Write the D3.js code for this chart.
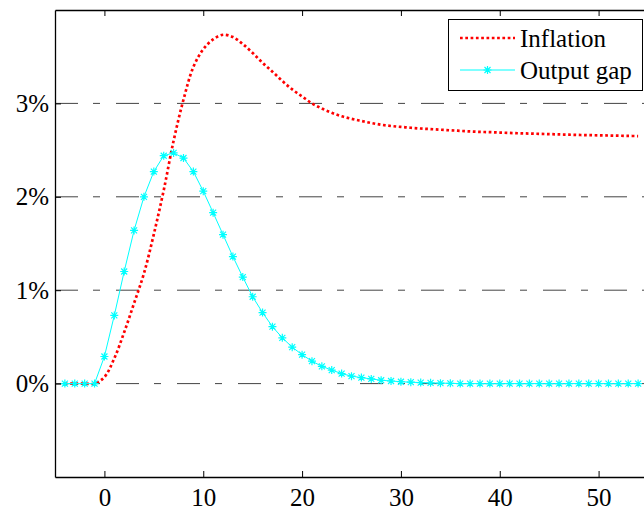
<!DOCTYPE html>
<html>
<head>
<meta charset="utf-8">
<script src="https://cdn.jsdelivr.net/npm/d3@7"></script>
<style>
  body { margin: 0; background: #fff; }
  svg { display: block; }
  text { font-family: "Liberation Serif", "Times New Roman", serif; }
</style>
</head>
<body>
<svg id="chart" width="644" height="512"></svg>
<script>
// horizon (quarters)
const periods = d3.range(-4, 55);

const inflation = [
    0, 0, 0, 0,
    0.07, 0.27, 0.55, 0.86, 1.18, 1.6, 2.07, 2.6, 3.04, 3.39,
    3.58, 3.685, 3.735, 3.71, 3.635, 3.54, 3.435, 3.34, 3.24, 3.15,
    3.075, 3.0, 2.945, 2.9, 2.862, 2.835, 2.812, 2.79, 2.772, 2.758,
    2.748, 2.739, 2.731, 2.725, 2.718, 2.712, 2.706, 2.7, 2.695, 2.692,
    2.688, 2.684, 2.68, 2.677, 2.674, 2.671, 2.668, 2.665, 2.662, 2.66,
    2.658, 2.656, 2.654, 2.652, 2.65
];

const outputGap = [
    0, 0, 0, 0,
    0.29, 0.73, 1.2, 1.64, 2.0, 2.27, 2.44, 2.47, 2.415, 2.27,
    2.06, 1.83, 1.595, 1.36, 1.14, 0.93, 0.76, 0.61, 0.49, 0.39,
    0.31, 0.24, 0.185, 0.145, 0.107, 0.08, 0.064, 0.05, 0.036, 0.028,
    0.02, 0.015, 0.011, 0.008, 0.005, 0.003, 0, 0, 0, 0,
    0, 0, 0, 0, 0, 0, 0, 0, 0, 0,
    0, 0, 0, 0, 0
];

const xTicks = [0, 10, 20, 30, 40, 50];
const yTicks = [0, 1, 2, 3];
const seriesNames = ["Inflation", "Output gap"];

const serif = "'Liberation Serif', 'Times New Roman', serif";
const svg = d3.select("#chart");
const margens = { left: 55, top: 10, bottom: 35 };
const plotW = 593;
const plotH = 512 - margens.top - margens.bottom;

const mapX = d3.scaleLinear().domain([-5, 55]).range([0, plotW]);
const mapY = d3.scaleLinear().domain([-1, 4]).range([plotH, 0]);

const g = svg.append("g")
    .attr("transform", `translate(${margens.left}, ${margens.top})`);

// dash-dot grid lines
g.append("g")
    .selectAll("line")
    .data(yTicks)
    .enter()
    .append("line")
    .attr("x1", 0)
    .attr("x2", plotW)
    .attr("y1", (d) => mapY(d))
    .attr("y2", (d) => mapY(d))
    .attr("stroke", "#444")
    .attr("stroke-width", 1)
    .attr("stroke-dasharray", "23,15,7,16");

const pts = periods.map((t, i) => ({ t, infl: inflation[i], gap: outputGap[i] }));

const inflLine = d3.line()
    .curve(d3.curveCatmullRom.alpha(0.5))
    .x((d) => mapX(d.t))
    .y((d) => mapY(d.infl));

const gapLine = d3.line()
    .x((d) => mapX(d.t))
    .y((d) => mapY(d.gap));

g.append("path")
    .datum(pts)
    .attr("fill", "none")
    .attr("stroke", "#ff0000")
    .attr("stroke-width", 2.7)
    .attr("stroke-dasharray", "2.7,2.6")
    .attr("d", inflLine);

g.append("path")
    .datum(pts)
    .attr("fill", "none")
    .attr("stroke", "#00ffff")
    .attr("stroke-width", 1)
    .attr("d", gapLine);

const star = "M-4,0L4,0M0,-4L0,4M-3,-3L3,3M-3,3L3,-3";
g.append("g")
    .selectAll("path")
    .data(pts)
    .enter()
    .append("path")
    .attr("transform", (d) => `translate(${mapX(d.t)}, ${mapY(d.gap)})`)
    .attr("d", star)
    .attr("fill", "none")
    .attr("stroke", "#00ffff")
    .attr("stroke-width", 1.2);

// axes, ticks pointing inward
const xAxis = d3.axisBottom(mapX).tickValues(xTicks).tickSize(-6).tickSizeOuter(0).tickPadding(11);
const xg = g.append("g")
    .attr("transform", `translate(0, ${plotH})`)
    .call(xAxis);

const topAxis = d3.axisTop(mapX).tickValues(xTicks).tickSize(-6).tickSizeOuter(0).tickFormat("");
const tg = g.append("g").call(topAxis);

const yAxis = d3.axisLeft(mapY).tickValues(yTicks).tickSize(-6).tickSizeOuter(0).tickPadding(6)
    .tickFormat((d) => d + "%");
const yg = g.append("g").call(yAxis);

[xg, tg, yg].forEach((a) => {
    a.attr("font-family", serif).attr("font-size", 25);
    a.select(".domain").attr("stroke", "#000").attr("stroke-width", 1.3);
    a.selectAll(".tick line").attr("stroke", "#000");
    a.selectAll("text")
        .attr("fill", "#000")
        .attr("font-family", serif)
        .style("font-size", "25px");
});

// legend
const legend = svg.append("g").attr("transform", "translate(448, 19)");
legend.append("rect")
    .attr("x", 0.5)
    .attr("y", 0.5)
    .attr("width", 194)
    .attr("height", 71)
    .attr("fill", "#fff")
    .attr("stroke", "#000")
    .attr("stroke-width", 1);

legend.append("line")
    .attr("x1", 12).attr("x2", 67).attr("y1", 19).attr("y2", 19)
    .attr("stroke", "#ff0000")
    .attr("stroke-width", 2.7)
    .attr("stroke-dasharray", "2.7,2.6");

legend.append("line")
    .attr("x1", 12).attr("x2", 67).attr("y1", 51).attr("y2", 51)
    .attr("stroke", "#00ffff")
    .attr("stroke-width", 1.2);

legend.append("path")
    .attr("transform", "translate(39.5, 51)")
    .attr("d", star)
    .attr("fill", "none")
    .attr("stroke", "#00ffff")
    .attr("stroke-width", 1.2);

legend.selectAll(".lbl")
    .data(seriesNames)
    .enter()
    .append("text")
    .attr("class", "lbl")
    .attr("x", 72)
    .attr("y", (d, i) => 28 + i * 32)
    .attr("font-family", serif)
    .style("font-size", "25px")
    .attr("fill", "#000")
    .text((d) => d);
</script>
</body>
</html>
